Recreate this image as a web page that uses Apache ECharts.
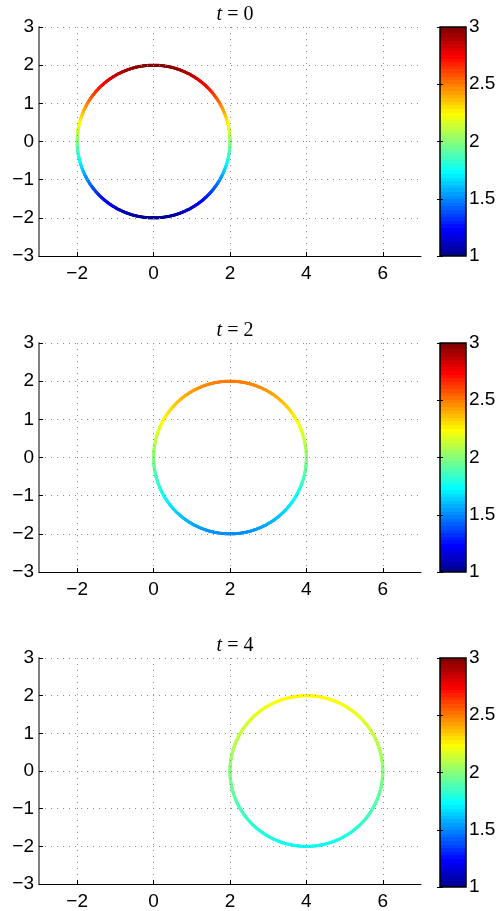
<!DOCTYPE html>
<html><head><meta charset="utf-8">
<script src="https://cdn.jsdelivr.net/npm/echarts@6/dist/echarts.min.js"></script>
<style>html,body{margin:0;padding:0;background:#fff}#c{width:501px;height:911px}</style>
</head><body><div id="c"></div>
<script>
// ---- data ----
const timeLabels = ['0', '2', '4'];
const centerX = [0, 2, 4];
const centerY = [0, 0, 0];
const radius = [2, 2, 2];
const topValue = [3, 2.5, 2.25];     // colour value at top of each circle
const bottomValue = [1, 1.5, 1.75];  // colour value at bottom of each circle
const xTicks = [-2, 0, 2, 4, 6];
const yTicks = [-3, -2, -1, 0, 1, 2, 3];
const cbTicks = [1, 1.5, 2, 2.5, 3];
const xRange = [-3, 7];
const yRange = [-3, 3];
const cRange = [1, 3];

// ---- layout ----
const gridTops = [27, 343, 658];
const gridH = 229;
const gridLeft = 39, gridW = 382;
const cbLeft = 440, cbW = 26;

function jet(m) {
  const n = Math.ceil(m / 4);
  const u = [];
  for (let i = 1; i <= n; i++) u.push(i / n);
  for (let i = 1; i < n; i++) u.push(1);
  for (let i = n; i >= 1; i--) u.push(i / n);
  const off = Math.ceil(n / 2) - (m % 4 === 1 ? 1 : 0);
  const J = Array.from({length: m}, () => [0, 0, 0]);
  for (let k = 0; k < u.length; k++) {
    const g = off + k + 1, r = g + n, b = g - n;
    if (r >= 1 && r <= m) J[r - 1][0] = u[k];
    if (g >= 1 && g <= m) J[g - 1][1] = u[k];
    if (b >= 1 && b <= m) J[b - 1][2] = u[k];
  }
  return J.map(c => 'rgb(' + c.map(v => Math.round(v * 255)).join(',') + ')');
}
const JET = jet(64);
const stops = [];
JET.forEach((c, i) => { stops.push({offset: i / 64, color: c}); stops.push({offset: (i + 1) / 64, color: c}); });

function circlePoints(s) {
  const pts = [];
  const N = 900;
  const cx = centerX[s], cy = centerY[s], r = radius[s];
  for (let k = 0; k < N; k++) {
    const th = 2 * Math.PI * k / N;
    const x = cx + r * Math.cos(th), y = cy + r * Math.sin(th);
    const c = bottomValue[s] + (topValue[s] - bottomValue[s]) * (y - (cy - r)) / (2 * r);
    pts.push([x, y, c]);
  }
  return pts;
}

const fmt = v => (v < 0 ? '\u2212' + Math.abs(v) : String(v));
const FONT = 'Liberation Sans';
const FS = 19;
const GRIDLINE = {color: '#8c8c8c', type: [1, 5], width: 1};

const option = {
  animation: false,
  backgroundColor: '#fff',
  title: [], grid: [], xAxis: [], yAxis: [], series: [], visualMap: []
};

for (let s = 0; s < 3; s++) {
  option.title.push({
    text: '{i|t} {n|=} {n|' + timeLabels[s] + '}',
    left: 235, top: gridTops[s] - 12, padding: 0,
    textAlign: 'center', textVerticalAlign: 'middle',
    textStyle: {fontFamily: 'Liberation Serif', fontSize: 20, fontWeight: 'normal', color: '#000',
      rich: {
        i: {fontFamily: 'Liberation Serif', fontStyle: 'italic', fontSize: 20, color: '#000'},
        n: {fontFamily: 'Liberation Serif', fontSize: 20, color: '#000'}
      }}
  });
  option.grid.push({left: gridLeft, top: gridTops[s], width: gridW, height: gridH});
  option.xAxis.push({
    type: 'value', gridIndex: s, min: xRange[0], max: xRange[1], z: 5,
    axisLine: {show: true, onZero: false, lineStyle: {color: '#000', width: 1}},
    axisTick: {show: true, inside: true, length: 4, customValues: xTicks, lineStyle: {color: '#000'}},
    axisLabel: {customValues: xTicks, formatter: fmt, fontFamily: FONT, fontSize: FS, color: '#000', margin: 8},
    splitLine: {show: true, lineStyle: GRIDLINE}
  });
  option.yAxis.push({
    type: 'value', gridIndex: s, min: yRange[0], max: yRange[1], interval: 1, z: 5,
    axisLine: {show: true, onZero: false, lineStyle: {color: '#808080', width: 2}},
    axisTick: {show: true, inside: true, length: 4, lineStyle: {color: '#000'}},
    axisLabel: {formatter: fmt, fontFamily: FONT, fontSize: FS, color: '#000', margin: 5},
    splitLine: {show: true, lineStyle: GRIDLINE}
  });
  option.series.push({
    type: 'scatter', xAxisIndex: s, yAxisIndex: s, symbol: 'circle', symbolSize: 3,
    data: circlePoints(s), itemStyle: {opacity: 1}, silent: true, z: 3
  });
  option.visualMap.push({
    type: 'continuous', show: false, seriesIndex: s, dimension: 2,
    min: cRange[0], max: cRange[1], inRange: {color: JET}
  });
}

// colorbars
for (let s = 0; s < 3; s++) {
  const gi = 3 + s;
  option.grid.push({left: cbLeft, top: gridTops[s], width: cbW, height: gridH});
  option.xAxis.push({type: 'value', gridIndex: gi, min: 0, max: 1, show: false});
  const yAx = {
    type: 'value', gridIndex: gi, min: cRange[0], max: cRange[1], interval: 0.5, z: 5,
    axisLine: {show: false},
    axisTick: {show: true, inside: true, length: 3, lineStyle: {color: '#000'}},
    splitLine: {show: false}
  };
  const yIdxRight = option.yAxis.length;
  option.yAxis.push(Object.assign({}, yAx, {position: 'right',
    axisLabel: {formatter: v => String(v), fontFamily: FONT, fontSize: FS, color: '#000', margin: 3, customValues: cbTicks}}));
  option.yAxis.push(Object.assign({}, yAx, {position: 'left', axisLabel: {show: false}}));
  option.series.push({
    type: 'custom', xAxisIndex: gi, yAxisIndex: yIdxRight, clip: false, silent: true, z: 1,
    data: [[0, cRange[0]]],
    renderItem: function (params, api) {
      const p1 = api.coord([0, cRange[1]]);
      const p2 = api.coord([1, cRange[0]]);
      return {
        type: 'rect',
        shape: {x: p1[0], y: p1[1], width: p2[0] - p1[0], height: p2[1] - p1[1]},
        style: {fill: {type: 'linear', x: 0, y: 1, x2: 0, y2: 0, colorStops: stops}, stroke: '#000', lineWidth: 1.5}
      };
    }
  });
}

const chart = echarts.init(document.getElementById('c'), null, {renderer: 'canvas'});
chart.setOption(option);
</script>
</body></html>
